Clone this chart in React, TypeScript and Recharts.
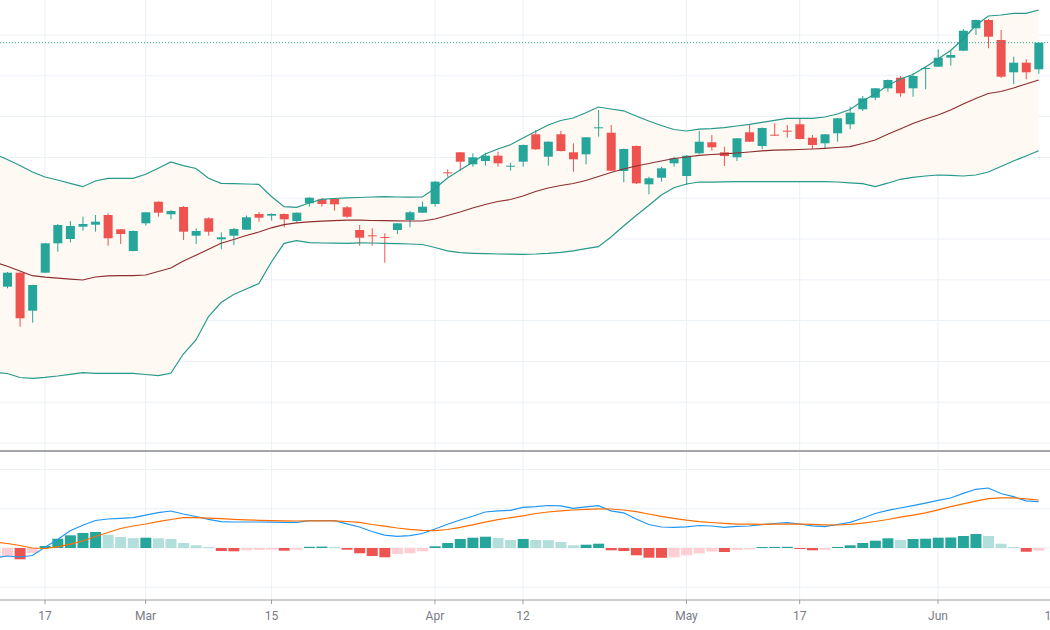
import { ComposedChart, Bar, Line, Area, XAxis, YAxis, CartesianGrid, ReferenceLine, Cell } from 'recharts'

// x is a session number: 0 = Feb 17, one step per trading session
const FIRST_BAR = -4
const FIRST_CANDLE = -3

const dateTicks = [0, 8, 18, 31, 38, 51, 60, 71, 80]
const dateLabels = ['17', 'Mar', '15', 'Apr', '12', 'May', '17', 'Jun', '14']

const priceGrid = [146.5, 142.42, 138.34, 134.26, 130.18, 126.1, 122.02, 117.94, 113.86, 109.78, 105.7]
const macdGrid = [-3.93, 0, 3.93, 7.86]

// daily candles, from session -3
const open = [
  121.33, 122.73, 118.93, 122.73, 125.67, 126.1, 127.33, 127.53, 128.5, 127.07,
  124.9, 127.67, 129.83, 128.57, 129.3, 126.43, 128.17, 126.07, 126.43, 127.03,
  128.6, 128.43, 128.6, 127.9, 129.67, 130.07, 130.1, 129.27, 127.0, 126.47,
  126.3, 127.0, 128.0, 128.73, 129.6, 132.77, 134.77, 133.57, 133.9, 134.43,
  133.37, 133.83, 136.57, 134.33, 136.57, 134.77, 134.57, 137.2, 136.73, 132.9,
  135.4, 131.57, 132.23, 133.67, 132.4, 134.67, 135.77, 134.77, 134.27, 136.77,
  135.4, 136.53, 136.93, 137.57, 136.23, 135.67, 136.67, 137.57, 139.07, 140.23,
  141.17, 142.23, 141.17, 143.13, 143.33, 144.23, 144.93, 147.17, 148.0, 146.0,
  142.77, 143.73, 143.07,
]
const high = [
  122.8, 122.78, 121.53, 125.7, 127.6, 127.9, 128.33, 128.5, 128.67, 127.1,
  126.95, 128.8, 129.87, 129.0, 129.4, 127.17, 128.27, 126.77, 127.2, 128.45,
  128.8, 128.67, 128.65, 128.75, 130.27, 130.2, 130.15, 129.4, 127.5, 127.17,
  126.67, 127.7, 128.9, 129.83, 131.9, 133.07, 134.8, 134.67, 134.73, 134.83,
  133.73, 135.55, 137.0, 135.87, 136.9, 135.67, 136.3, 139.0, 137.5, 135.15,
  135.45, 132.33, 133.33, 134.33, 134.5, 136.93, 136.5, 135.33, 136.2, 137.6,
  137.25, 137.67, 137.5, 138.17, 136.5, 136.6, 138.2, 139.33, 140.4, 141.2,
  142.05, 142.4, 142.67, 143.33, 145.07, 144.93, 147.1, 148.05, 148.1, 147.0,
  144.33, 144.07, 145.77,
]
const low = [
  121.17, 117.33, 117.73, 122.7, 124.83, 125.77, 126.93, 126.83, 125.43, 125.6,
  124.87, 127.43, 128.33, 128.07, 126.0, 125.6, 126.43, 125.07, 125.5, 127.0,
  127.83, 127.93, 127.27, 127.73, 129.33, 129.33, 128.93, 128.2, 125.43, 125.43,
  123.73, 126.6, 127.27, 128.7, 129.33, 132.33, 132.93, 133.33, 133.43, 133.33,
  132.93, 133.33, 135.0, 133.43, 134.85, 132.83, 133.57, 136.33, 132.9, 131.77,
  131.6, 130.57, 131.83, 133.33, 131.5, 134.6, 134.93, 133.4, 133.9, 135.8,
  135.1, 136.43, 136.23, 136.05, 135.1, 135.17, 135.83, 137.07, 138.9, 140.0,
  140.83, 140.33, 140.33, 141.07, 143.3, 143.43, 144.9, 146.5, 145.17, 142.2,
  141.6, 142.07, 142.6,
]
const close = [
  122.73, 118.17, 121.5, 125.67, 127.5, 127.4, 127.6, 127.83, 126.17, 126.6,
  126.9, 128.77, 128.73, 128.9, 126.83, 126.9, 126.83, 126.27, 127.1, 128.27,
  128.23, 128.6, 128.07, 128.73, 130.23, 129.6, 129.57, 128.33, 126.23, 126.4,
  126.24, 127.67, 128.77, 129.33, 131.83, 132.7, 133.83, 134.27, 134.43, 133.67,
  133.43, 135.5, 135.07, 135.83, 134.9, 134.07, 136.27, 137.27, 132.93, 135.1,
  131.67, 132.17, 133.17, 134.17, 134.43, 135.83, 135.27, 134.4, 136.17, 135.83,
  137.2, 136.47, 136.87, 136.1, 135.5, 136.57, 138.17, 138.73, 140.17, 141.17,
  142.0, 140.67, 142.4, 143.2, 144.23, 144.5, 146.93, 148.0, 146.33, 142.33,
  143.73, 142.77, 145.73,
]

// Bollinger bands (20, 2), from session -4
const bbUpper = [
  134.6, 134.05, 133.45, 132.8, 132.3, 132.0, 131.67, 131.33, 131.9, 132.17,
  132.17, 132.17, 132.57, 133.17, 133.8, 133.43, 133.15, 132.17, 131.67, 131.64,
  131.6, 131.57, 130.35, 129.33, 129.27, 129.7, 130.07, 130.15, 130.22, 130.25,
  130.3, 130.33, 130.3, 130.28, 130.3, 131.15, 132.2, 133.0, 133.77, 134.6,
  135.1, 135.53, 136.2, 136.85, 137.5, 137.95, 138.2, 138.73, 139.3, 139.1,
  138.92, 138.4, 137.9, 137.45, 137.05, 136.9, 137.08, 137.13, 137.23, 137.4,
  137.57, 137.77, 137.97, 138.17, 138.17, 138.17, 138.3, 138.6, 139.05, 139.9,
  140.6, 141.45, 142.1, 142.55, 143.3, 144.1, 144.95, 146.1, 147.45, 148.4,
  148.5, 148.67, 148.67, 149.0,
]
const bbBasis = [
  123.8, 123.38, 122.9, 122.43, 122.28, 122.18, 122.08, 122.0, 122.3, 122.42,
  122.43, 122.43, 122.5, 122.85, 123.2, 123.9, 124.47, 125.07, 125.67, 126.05,
  126.45, 126.8, 127.22, 127.54, 127.72, 127.82, 127.88, 127.93, 127.98, 127.98,
  127.95, 127.93, 127.92, 127.9, 127.9, 128.1, 128.45, 128.8, 129.2, 129.55,
  129.85, 130.05, 130.4, 130.85, 131.2, 131.45, 131.65, 131.95, 132.35, 132.75,
  133.1, 133.4, 133.65, 133.9, 134.15, 134.3, 134.47, 134.55, 134.62, 134.7,
  134.8, 134.92, 134.98, 135.02, 135.05, 135.1, 135.17, 135.25, 135.33, 135.65,
  136.0, 136.57, 137.1, 137.65, 138.1, 138.5, 139.0, 139.6, 140.15, 140.65,
  140.85, 141.2, 141.6, 142.0,
]
const bbLower = [
  112.77, 112.65, 112.25, 112.17, 112.27, 112.4, 112.57, 112.73, 112.67, 112.67,
  112.67, 112.67, 112.55, 112.43, 112.67, 114.6, 116.0, 118.35, 119.75, 120.55,
  121.1, 121.65, 123.8, 125.67, 125.93, 125.73, 125.7, 125.68, 125.67, 125.72,
  125.7, 125.67, 125.63, 125.6, 125.55, 125.25, 124.92, 124.73, 124.67, 124.63,
  124.6, 124.58, 124.57, 124.6, 124.67, 124.77, 124.92, 125.13, 125.33, 126.3,
  127.4, 128.45, 129.45, 130.5, 131.23, 131.6, 131.8, 131.78, 131.82, 131.83,
  131.83, 131.83, 131.83, 131.83, 131.83, 131.83, 131.83, 131.8, 131.72, 131.63,
  131.33, 131.68, 132.07, 132.27, 132.4, 132.5, 132.47, 132.4, 132.5, 132.8,
  133.35, 133.9, 134.4, 134.93,
]

// MACD (12, 26, 9), from session -4
const macdLine = [
  -1.0, -0.8, -0.9, -0.75, 0.07, 0.85, 1.73, 2.28, 2.75, 2.9,
  2.97, 3.03, 3.28, 3.53, 3.7, 3.4, 3.15, 2.87, 2.64, 2.6,
  2.6, 2.6, 2.59, 2.56, 2.57, 2.73, 2.73, 2.73, 2.42, 2.1,
  1.65, 1.29, 1.17, 1.23, 1.45, 1.9, 2.37, 2.8, 3.18, 3.6,
  3.72, 3.77, 4.06, 4.13, 4.25, 4.22, 3.97, 4.12, 4.23, 3.72,
  3.52, 2.9, 2.35, 2.1, 2.07, 2.12, 2.25, 2.2, 2.06, 2.16,
  2.2, 2.33, 2.45, 2.53, 2.4, 2.22, 2.14, 2.35, 2.57, 2.98,
  3.45, 3.77, 4.0, 4.24, 4.49, 4.76, 5.0, 5.46, 5.87, 6.0,
  5.45, 5.13, 4.72, 4.63,
]
const signalLine = [
  0.6, 0.45, 0.25, 0.0, -0.05, 0.12, 0.38, 0.7, 1.15, 1.55,
  1.95, 2.2, 2.4, 2.63, 2.85, 3.04, 3.04, 2.99, 2.93, 2.87,
  2.82, 2.77, 2.73, 2.71, 2.7, 2.71, 2.72, 2.72, 2.65, 2.57,
  2.35, 2.18, 2.0, 1.87, 1.77, 1.74, 1.85, 2.07, 2.32, 2.58,
  2.83, 3.03, 3.22, 3.45, 3.6, 3.72, 3.8, 3.87, 3.92, 3.9,
  3.8, 3.63, 3.4, 3.17, 2.96, 2.78, 2.64, 2.55, 2.47, 2.39,
  2.38, 2.37, 2.38, 2.39, 2.4, 2.36, 2.32, 2.3, 2.37, 2.48,
  2.65, 2.85, 3.08, 3.29, 3.52, 3.82, 4.13, 4.42, 4.68, 4.93,
  5.02, 5.02, 4.92, 4.8,
]
const histogram = [
  -1.0, -0.87, -1.13, -0.5, 0.2, 0.93, 1.27, 1.5, 1.6, 1.33,
  1.1, 0.98, 1.03, 0.97, 0.9, 0.5, 0.27, 0.1, -0.3, -0.33,
  -0.23, -0.2, -0.17, -0.27, -0.17, 0.12, 0.14, 0.11, -0.17, -0.53,
  -0.8, -0.93, -0.6, -0.53, -0.33, 0.17, 0.5, 0.9, 1.03, 1.13,
  1.0, 0.8, 0.9, 0.8, 0.79, 0.6, 0.27, 0.33, 0.43, -0.23,
  -0.3, -0.73, -0.97, -0.98, -0.93, -0.73, -0.53, -0.35, -0.4, -0.2,
  -0.13, 0.1, 0.11, 0.12, -0.1, -0.23, -0.17, 0.1, 0.27, 0.5,
  0.73, 0.97, 0.8, 0.9, 0.93, 1.03, 1.05, 1.2, 1.4, 1.2,
  0.43, 0.1, -0.37, -0.27,
]

const UP = '#26a69a'
const DOWN = '#ef5350'
const GRID = '#ebf0f5'
const CHART_W = 1058
const X_DOMAIN: [number, number] = [-3.58, 80.54]

const rows = bbUpper.map((upper, k) => {
  const bar = FIRST_BAR + k
  const c = bar - FIRST_CANDLE
  const has = c >= 0 && c < open.length
  return {
    bar,
    upper,
    basis: bbBasis[k],
    lower: bbLower[k],
    macd: macdLine[k],
    signal: signalLine[k],
    hist: histogram[k],
    prevHist: k > 0 ? histogram[k - 1] : histogram[k],
    open: has ? open[c] : null,
    high: has ? high[c] : null,
    low: has ? low[c] : null,
    close: has ? close[c] : null,
  }
})

type Row = (typeof rows)[number]

function histColor(r: Row) {
  if (r.hist >= 0) return r.hist >= r.prevHist ? '#26a69a' : '#b2dfdb'
  return r.hist < r.prevHist ? '#ef5350' : '#ffcdd2'
}

// Bar gives the low..high span in pixels; open/close are placed inside it
function Candle(props: any) {
  const { x, y, width, height, payload } = props
  if (payload.open == null || !height) return null
  const { open: o, close: c, high: h, low: l } = payload
  const color = c >= o ? UP : DOWN
  const perUnit = height / (h - l)
  const top = y + (h - Math.max(o, c)) * perUnit
  const bottom = y + (h - Math.min(o, c)) * perUnit
  const cx = x + width / 2
  return (
    <g>
      <line x1={cx} x2={cx} y1={y} y2={y + height} stroke={color} strokeWidth={1} />
      <rect x={x} y={top} width={width} height={Math.max(1, bottom - top)} fill={color} />
    </g>
  )
}

export default function App() {
  return (
    <div style={{ position: 'absolute', left: 0, top: 0, width: 1050, height: 630, overflow: 'hidden', background: '#fff' }}>
      <div style={{ position: 'absolute', left: 0, top: 0 }}>
        <ComposedChart width={CHART_W} height={450} data={rows} margin={{ top: 0, right: 0, bottom: 0, left: 0 }}>
          <CartesianGrid stroke={GRID} horizontalValues={priceGrid} verticalValues={dateTicks} />
          <XAxis type="number" dataKey="bar" domain={X_DOMAIN} allowDataOverflow ticks={dateTicks} hide />
          <YAxis type="number" domain={[105, 150]} allowDataOverflow hide />
          <Area
            dataKey={(d: Row) => [d.lower, d.upper]}
            type="linear"
            stroke="none"
            fill="#fef9f3"
            fillOpacity={1}
            isAnimationActive={false}
          />
          <Line dataKey="upper" type="linear" stroke="#26998b" strokeWidth={1.2} dot={false} activeDot={false} isAnimationActive={false} />
          <Line dataKey="lower" type="linear" stroke="#26998b" strokeWidth={1.2} dot={false} activeDot={false} isAnimationActive={false} />
          <Line dataKey="basis" type="linear" stroke="#8e2f2f" strokeWidth={1.2} dot={false} activeDot={false} isAnimationActive={false} />
          <Bar
            dataKey={(d: Row) => (d.open == null ? null : [d.low, d.high])}
            barSize={9}
            shape={Candle}
            isAnimationActive={false}
          />
          <ReferenceLine y={close[close.length - 1]} stroke={UP} strokeDasharray="1 2" strokeWidth={1} />
        </ComposedChart>
      </div>
      <div style={{ position: 'absolute', left: 0, top: 450 }}>
        <ComposedChart width={CHART_W} height={180} data={rows} margin={{ top: 0, right: 0, bottom: 0, left: 0 }}>
          <CartesianGrid stroke={GRID} horizontalValues={macdGrid} verticalValues={dateTicks} />
          <XAxis
            type="number"
            dataKey="bar"
            domain={X_DOMAIN}
            allowDataOverflow
            ticks={dateTicks}
            interval={0}
            tickFormatter={(v: number) => dateLabels[dateTicks.indexOf(v)] ?? ''}
            height={30}
            tickSize={4}
            tickMargin={7}
            stroke="#9a9ca3"
            tick={{ fill: '#787b86', fontSize: 12, fontFamily: 'Roboto, sans-serif' }}
          />
          <YAxis type="number" domain={[-5.2, 9.8]} allowDataOverflow hide />
          <Bar dataKey="hist" barSize={11} isAnimationActive={false}>
            {rows.map((r) => (
              <Cell key={r.bar} fill={histColor(r)} />
            ))}
          </Bar>
          <Line dataKey="macd" type="linear" stroke="#2196f3" strokeWidth={1.2} dot={false} activeDot={false} isAnimationActive={false} />
          <Line dataKey="signal" type="linear" stroke="#ff6d00" strokeWidth={1.2} dot={false} activeDot={false} isAnimationActive={false} />
        </ComposedChart>
      </div>
      <div style={{ position: 'absolute', left: 0, top: 450, width: 1050, height: 2, background: '#a4a6ac' }} />
    </div>
  )
}
